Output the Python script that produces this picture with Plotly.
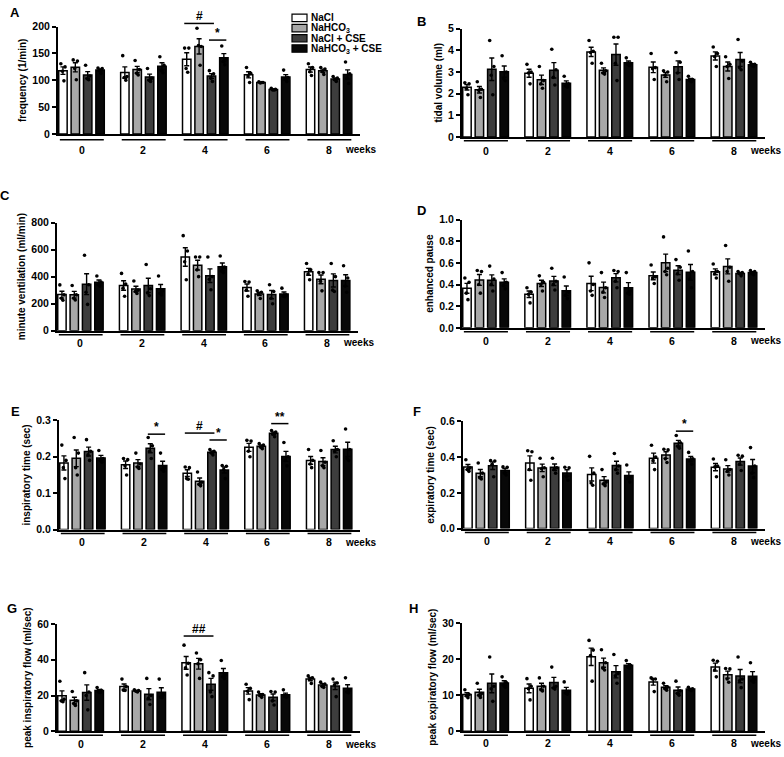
import numpy as np
import plotly.graph_objects as go

W, H = 784, 757
FONT = "Liberation Sans, Arial, sans-serif"

WEEKS = ["0", "2", "4", "6", "8"]
GROUPS = ["NaCl", "NaHCO<sub>3</sub>", "NaCl + CSE", "NaHCO<sub>3</sub> + CSE"]
COLORS = ["#ffffff", "#a8a8a8", "#3d3d3d", "#080808"]

# individual animals, [week][group] -> values
frequency = [
    [[131, 125, 117, 99], [138, 136, 122, 101], [128, 108, 103, 101], [123, 122, 118, 113]],
    [[146, 107, 105, 100], [137, 120, 113, 110], [122, 104, 100, 98], [144, 128, 118, 114]],
    [[160, 160, 122, 115], [197, 163, 165, 128], [118, 112, 104, 98], [164, 140, 135, 129]],
    [[124, 113, 108, 96], [97, 96, 95, 96], [85, 83, 82, 82], [119, 105, 102, 98]],
    [[131, 124, 116, 109], [124, 121, 116, 111], [107, 104, 101, 98], [134, 112, 104, 94]],
]
tidal_volume = [
    [[2.5, 2.45, 2.25, 1.95], [2.55, 2.2, 2.15, 1.82], [4.45, 3.25, 2.85, 1.95], [3.75, 3.0, 2.7, 2.6]],
    [[3.35, 3.0, 2.95, 2.45], [3.25, 2.6, 2.45, 2.25], [4.05, 3.1, 2.75, 2.4], [2.8, 2.45, 2.35, 2.3]],
    [[4.45, 3.95, 3.9, 3.4], [3.4, 3.05, 2.95, 2.9], [4.6, 4.6, 3.4, 2.6], [3.65, 3.4, 3.35, 3.3]],
    [[3.85, 3.2, 3.15, 2.65], [3.05, 3.0, 2.85, 2.55], [3.9, 3.45, 2.95, 2.65], [2.8, 2.65, 2.6, 2.55]],
    [[4.15, 3.85, 3.7, 3.25], [3.7, 3.35, 3.25, 2.7], [4.5, 3.5, 3.2, 3.1], [3.45, 3.35, 3.3, 3.25]],
]
minute_ventilation = [
    [[339, 265, 240, 225], [335, 265, 240, 228], [558, 340, 285, 195], [405, 360, 340, 330]],
    [[424, 345, 315, 255], [368, 300, 290, 275], [490, 310, 280, 260], [405, 295, 275, 265]],
    [[703, 590, 510, 377], [545, 545, 450, 400], [545, 400, 380, 303], [553, 470, 440, 430]],
    [[364, 360, 300, 255], [295, 285, 270, 238], [340, 290, 240, 200], [315, 265, 255, 252]],
    [[497, 450, 420, 377], [430, 430, 365, 295], [497, 400, 300, 290], [480, 390, 330, 285]],
]
enhanced_pause = [
    [[0.46, 0.42, 0.32, 0.26], [0.53, 0.52, 0.40, 0.32], [0.57, 0.45, 0.40, 0.34], [0.51, 0.42, 0.39, 0.36]],
    [[0.37, 0.33, 0.31, 0.23], [0.48, 0.42, 0.40, 0.34], [0.55, 0.43, 0.40, 0.35], [0.47, 0.33, 0.30, 0.27]],
    [[0.60, 0.40, 0.34, 0.30], [0.51, 0.37, 0.33, 0.28], [0.53, 0.52, 0.43, 0.37], [0.51, 0.34, 0.32, 0.31]],
    [[0.58, 0.47, 0.46, 0.41], [0.84, 0.55, 0.52, 0.49], [0.63, 0.56, 0.50, 0.44], [0.71, 0.52, 0.45, 0.37]],
    [[0.59, 0.52, 0.50, 0.46], [0.76, 0.56, 0.52, 0.43], [0.52, 0.51, 0.50, 0.48], [0.53, 0.52, 0.50, 0.49]],
]
inspiratory_time = [
    [[0.232, 0.19, 0.17, 0.14], [0.253, 0.21, 0.17, 0.15], [0.247, 0.215, 0.205, 0.19], [0.217, 0.195, 0.19, 0.185]],
    [[0.195, 0.192, 0.175, 0.15], [0.21, 0.18, 0.172, 0.168], [0.253, 0.23, 0.215, 0.195], [0.21, 0.17, 0.165, 0.16]],
    [[0.172, 0.17, 0.14, 0.138], [0.158, 0.13, 0.124, 0.12], [0.22, 0.215, 0.21, 0.205], [0.176, 0.174, 0.165, 0.14]],
    [[0.245, 0.243, 0.215, 0.2], [0.236, 0.232, 0.226, 0.222], [0.272, 0.268, 0.262, 0.255], [0.239, 0.2, 0.19, 0.175]],
    [[0.22, 0.19, 0.18, 0.17], [0.217, 0.185, 0.175, 0.17], [0.244, 0.22, 0.215, 0.2], [0.276, 0.22, 0.195, 0.19]],
]
expiratory_time = [
    [[0.385, 0.34, 0.33, 0.32], [0.367, 0.31, 0.285, 0.278], [0.38, 0.378, 0.36, 0.29], [0.345, 0.343, 0.31, 0.30]],
    [[0.435, 0.43, 0.33, 0.27], [0.393, 0.34, 0.335, 0.29], [0.393, 0.34, 0.33, 0.31], [0.343, 0.34, 0.29, 0.27]],
    [[0.404, 0.31, 0.255, 0.242], [0.33, 0.26, 0.25, 0.24], [0.42, 0.35, 0.33, 0.31], [0.356, 0.29, 0.28, 0.26]],
    [[0.466, 0.40, 0.38, 0.33], [0.444, 0.44, 0.39, 0.37], [0.521, 0.48, 0.46, 0.45], [0.426, 0.39, 0.38, 0.36]],
    [[0.389, 0.35, 0.345, 0.29], [0.385, 0.33, 0.32, 0.30], [0.41, 0.405, 0.36, 0.325], [0.453, 0.35, 0.31, 0.285]],
]
peak_insp_flow = [
    [[28, 18, 17, 16.6], [22.3, 17, 15.5, 14.5], [32.8, 22, 20, 12], [24.5, 23, 22, 21.7]],
    [[29.2, 25, 23, 22.8], [23.2, 22.8, 22.4, 22], [29.6, 20, 18.5, 15], [29.2, 20.5, 19, 18.9]],
    [[48.2, 38, 35.5, 31.5], [43.8, 40, 37.8, 29.6], [32.8, 31, 22, 19.4], [39.6, 31.5, 30.5, 29.6]],
    [[26.3, 24, 22.4, 17.7], [22, 20.5, 20, 19], [22.3, 22, 17, 14.7], [23.2, 20, 19.5, 19]],
    [[31, 30, 29, 26.8], [27.5, 26.5, 25, 24.6], [29.2, 27, 26, 19.4], [29.9, 23, 22, 21.5]],
]
peak_exp_flow = [
    [[11.5, 10.2, 9.8, 9.3], [13.3, 10.5, 10, 9.4], [20.6, 12.5, 11.8, 8.3], [15.1, 13.5, 12.8, 12.2]],
    [[14.6, 12.5, 11.8, 8.7], [14.8, 12.5, 11.5, 11.2], [17.8, 12.5, 12, 11.7], [13.7, 11, 10.6, 10.3]],
    [[25.2, 22.5, 21, 13.9], [22.6, 19, 17.5, 17], [21.3, 16, 15.4, 13.3], [19.6, 18.3, 17.8, 17.5]],
    [[14.8, 14.5, 14.5, 11], [13.3, 12.3, 11.8, 11.4], [13.9, 11.2, 10.5, 10], [12.2, 11.8, 11.5, 11.3]],
    [[19.7, 19.4, 17, 15.1], [17.4, 17.3, 14.5, 13.6], [20.6, 14.5, 14, 12.1], [19, 14.5, 14, 13.6]],
]

# significance: (week index, group a, group b, level, label)
sig_A = [(2, 0, 2, 206, "#"), (2, 2, 3, 175, "*")]
sig_E = [(1, 2, 3, 0.262, "*"), (2, 0, 2, 0.265, "#"), (2, 2, 3, 0.246, "*"), (3, 2, 3, 0.291, "**")]
sig_F = [(3, 2, 3, 0.545, "*")]
sig_G = [(2, 0, 2, 53.3, "##")]

# letter, y title, data, y ticks, tick format, sig, letter pos,
# plot box [x0, x1, y_top, y_bottom] in px, (underline, week label) offsets below axis in px
PANELS = [
    ("A", "frequency (1/min)", frequency, [0, 50, 100, 150, 200], "", sig_A, (15, 7), (58, 360, 21, 130), (6, 16)),
    ("B", "tidal volume (ml)", tidal_volume, [0, 1, 2, 3, 4, 5], "", [], (422, 16), (462, 765, 23, 133), (4, 14)),
    ("C", "minute ventilation (ml/min)", minute_ventilation, [0, 200, 400, 600, 800], "", [], (5, 193), (57, 358, 220, 330), (4, 12)),
    ("D", "enhanced pause", enhanced_pause, [0, 0.2, 0.4, 0.6, 0.8, 1.0], ".1f", [], (422, 208), (462, 765, 217, 327), (4, 13)),
    ("E", "inspiratory time (sec)", inspiratory_time, [0, 0.1, 0.2, 0.3], ".1f", sig_E, (15, 412), (59, 360, 421, 532), (4, 13)),
    ("F", "expiratory time (sec)", expiratory_time, [0, 0.2, 0.4, 0.6], ".1f", sig_F, (417, 412), (463, 765, 422, 531), (4, 13)),
    ("G", "peak inspiratory flow (ml/sec)", peak_insp_flow, [0, 20, 40, 60], "", sig_G, (12, 612), (57, 360, 628, 737), (4, 13)),
    ("H", "peak expiratory flow (ml/sec)", peak_exp_flow, [0, 10, 20, 30], "", [], (413, 612), (462, 765, 627, 737), (4, 12)),
]

STEP = 5          # 4 bars + 1 gap per week
DOT_OFFSETS = [-0.17, 0.17, -0.05, 0.08]
BOLD = lambda s: dict(size=s, color="black", family=FONT, weight="bold")

fig = go.Figure()
shapes, annotations = [], []
layout = {}

for k, (letter, ytitle, data, yticks, fmt, sigs, lpos, box, offs) in enumerate(PANELS, start=1):
    sfx = "" if k == 1 else str(k)
    xa, ya = "x" + sfx, "y" + sfx
    vals = np.array(data, dtype=float)          # week x group x animal
    means = vals.mean(axis=2)
    sems = vals.std(axis=2, ddof=1) / np.sqrt(vals.shape[2])
    ymax = yticks[-1]
    x0, x1, yt, yb = box
    ph = yb - yt                                 # plot height in px
    u_off, l_off = offs

    for g in range(4):
        xs = [w * STEP + g for w in range(len(WEEKS))]
        fig.add_trace(go.Bar(
            x=xs, y=means[:, g], width=0.68,
            marker=dict(color=COLORS[g], line=dict(color="black", width=1.5)),
            error_y=dict(type="data", array=sems[:, g], color="black", thickness=1.4, width=2.5),
            xaxis=xa, yaxis=ya, showlegend=False, name=GROUPS[g],
        ))

    dx, dy = [], []
    for w in range(len(WEEKS)):
        for g in range(4):
            for j, v in enumerate(vals[w, g]):
                dx.append(w * STEP + g + DOT_OFFSETS[j % 4])
                dy.append(v)
    fig.add_trace(go.Scatter(
        x=dx, y=dy, mode="markers", cliponaxis=False,
        marker=dict(color="black", size=3.6),
        xaxis=xa, yaxis=ya, showlegend=False, hoverinfo="y",
    ))

    layout["xaxis" + sfx] = dict(
        domain=[x0 / W, x1 / W], anchor=ya, range=[-0.4, 24],
        showticklabels=False, ticks="",
        showline=True, linecolor="black", linewidth=2, showgrid=False, zeroline=False,
    )
    layout["yaxis" + sfx] = dict(
        domain=[1 - yb / H, 1 - yt / H], anchor=xa, range=[0, ymax],
        tickvals=yticks, tickformat=fmt, ticks="outside", ticklen=4, tickwidth=1.5,
        tickcolor="black", showline=True, linecolor="black", linewidth=2,
        showgrid=False, zeroline=False, tickfont=BOLD(10.5),
        title=dict(text=ytitle, standoff=4, font=BOLD(10)),
    )

    # group underlines and week labels
    for w, lab in enumerate(WEEKS):
        shapes.append(dict(type="line", xref=xa, yref=f"{ya} domain",
                           x0=w * STEP - 0.25, x1=w * STEP + 3.3, y0=-u_off / ph, y1=-u_off / ph,
                           line=dict(color="black", width=1.5)))
        annotations.append(dict(text=lab, xref=xa, yref=f"{ya} domain", x=w * STEP + 1.5,
                                y=-l_off / ph, yanchor="middle", showarrow=False, font=BOLD(10.5)))
    annotations.append(dict(text="weeks", xref=xa, yref=f"{ya} domain", x=22.6, y=-l_off / ph,
                            xanchor="left", yanchor="middle", showarrow=False, font=BOLD(10)))

    # significance bars
    for w, a, b, lvl, lab in sigs:
        yd = lvl / ymax
        shapes.append(dict(type="line", xref=xa, yref=f"{ya} domain",
                           x0=w * STEP + a - 0.2, x1=w * STEP + b + 0.2, y0=yd, y1=yd,
                           line=dict(color="black", width=1.5)))
        annotations.append(dict(text=lab, xref=xa, yref=f"{ya} domain",
                                x=w * STEP + (a + b) / 2, y=yd, yanchor="bottom", yshift=-2,
                                showarrow=False, font=BOLD(12)))

    annotations.append(dict(text=letter, xref="paper", yref="paper", x=lpos[0] / W, y=1 - lpos[1] / H,
                            xanchor="center", yanchor="middle", showarrow=False, font=BOLD(13)))

# hand-built legend in panel A
for i, name in enumerate(GROUPS):
    cy = 12 + i * 10.4
    shapes.append(dict(type="rect", xref="paper", yref="paper",
                       x0=292 / W, x1=307 / W, y0=1 - (cy + 3.8) / H, y1=1 - (cy - 3.8) / H,
                       fillcolor=COLORS[i], line=dict(color="black", width=1.2)))
    annotations.append(dict(text=name, xref="paper", yref="paper", x=309 / W, y=1 - cy / H,
                            xanchor="left", yanchor="middle", showarrow=False, font=BOLD(10)))

fig.update_layout(
    **layout,
    width=W, height=H, margin=dict(l=0, r=0, t=0, b=0),
    paper_bgcolor="white", plot_bgcolor="white",
    font=dict(family=FONT, color="black"),
    barmode="overlay", shapes=shapes, annotations=annotations, showlegend=False,
)

# the page's default body margin would push the fixed-size figure off the window
fig.write_html(
    "out.html",
    config={"displayModeBar": False},
    post_script="document.body.style.margin='0';document.body.style.overflow='hidden';",
)
